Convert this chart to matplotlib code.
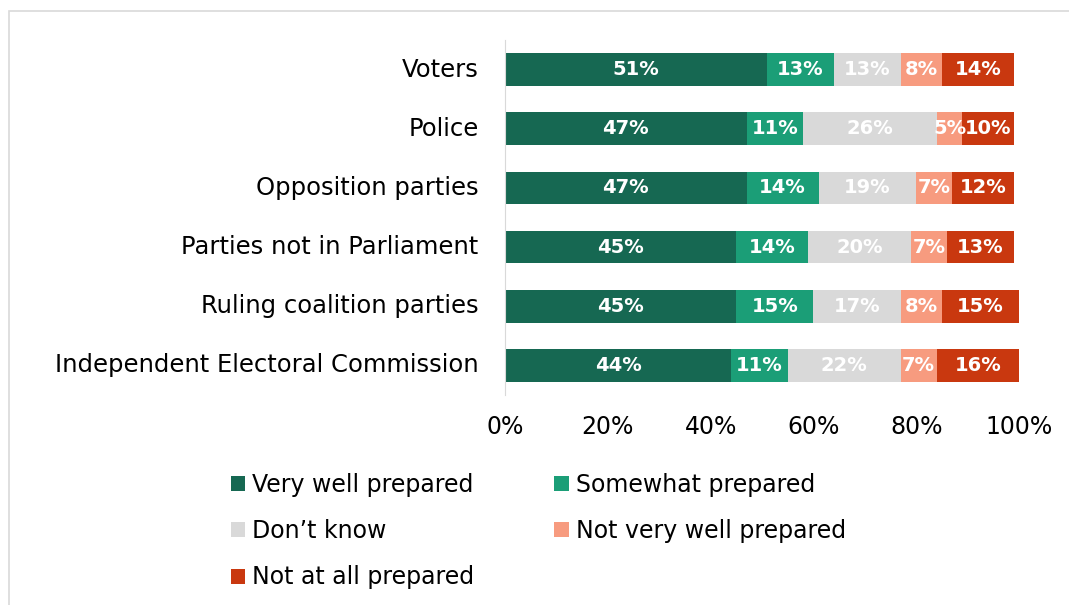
import matplotlib.pyplot as plt
from matplotlib.patches import Rectangle
import numpy as np

plt.rcParams['font.family'] = ['DejaVu Sans']

# Survey results, percent of respondents
groups = ['Voters', 'Police', 'Opposition parties', 'Parties not in Parliament',
          'Ruling coalition parties', 'Independent Electoral Commission']
very_well = [51, 47, 47, 45, 45, 44]
somewhat = [13, 11, 14, 14, 15, 11]
dont_know = [13, 26, 19, 20, 17, 22]
not_very = [8, 5, 7, 7, 8, 7]
not_at_all = [14, 10, 12, 13, 15, 16]

series = [
    ('Very well prepared', very_well, '#166852'),
    ('Somewhat prepared', somewhat, '#1B9E77'),
    ('Don\u2019t know', dont_know, '#D9D9D9'),
    ('Not very well prepared', not_very, '#F79B7F'),
    ('Not at all prepared', not_at_all, '#C9380F'),
]

fig = plt.figure(figsize=(10.69, 6.05), dpi=100)
ax = fig.add_axes([0.4724, 0.347, 0.4808, 0.587])

# light frame around the chart area
fig.patches.append(Rectangle((9 / 1069, -0.1), 1.1, 1.1 - 11 / 605, transform=fig.transFigure,
                             fill=False, edgecolor='#D9D9D9', linewidth=1.2))

y = np.arange(len(groups))
left = np.zeros(len(groups))
handles = []
for name, vals, color in series:
    vals = np.array(vals, dtype=float)
    bars = ax.barh(y, vals, left=left, height=0.55, color=color, label=name)
    handles.append(bars)
    for yi, l, v in zip(y, left, vals):
        ax.text(l + v / 2, yi, f'{int(v)}%', ha='center', va='center',
                color='white', fontsize=14, fontweight='bold')
    left += vals

ax.set_xlim(0, 100)
ax.set_ylim(len(groups) - 0.5, -0.5)
ax.set_yticks(y)
ax.set_yticklabels(groups, fontsize=17.5, va='center')
ax.set_xticks(np.arange(0, 101, 20))
ax.set_xticklabels([f'{t}%' for t in range(0, 101, 20)], fontsize=17)
ax.tick_params(axis='both', length=0)
ax.tick_params(axis='y', pad=19)
ax.tick_params(axis='x', pad=14)
for side in ['top', 'right', 'bottom']:
    ax.spines[side].set_visible(False)
ax.spines['left'].set_color('#D9D9D9')

# legend reads row by row, so order handles for column-first filling
order = [0, 2, 4, 1, 3]
fig.legend(handles=[handles[i] for i in order], loc='upper left',
           bbox_to_anchor=(0.196, 0.254), ncol=2, frameon=False, fontsize=17,
           handlelength=0.6, handleheight=0.6, handletextpad=0.3,
           columnspacing=3.4, labelspacing=0.95)

fig.savefig('out.png', dpi=100)
